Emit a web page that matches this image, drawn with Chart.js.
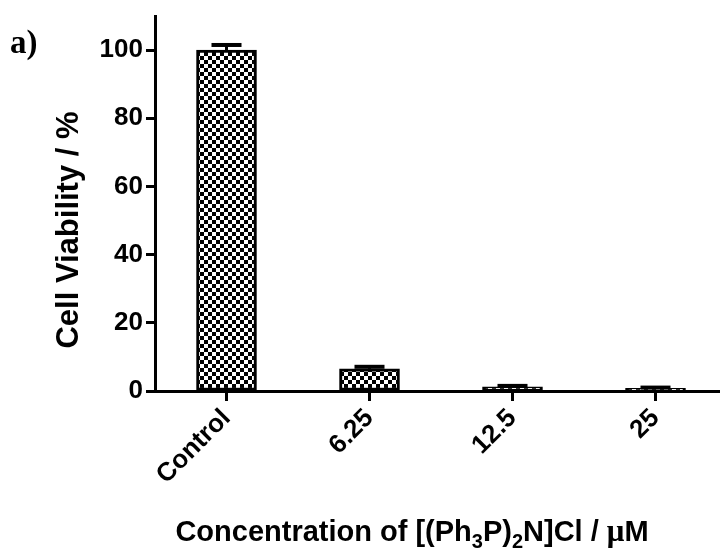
<!DOCTYPE html>
<html>
<head>
<meta charset="utf-8">
<title>Cell viability</title>
<script src="https://cdn.jsdelivr.net/npm/chart.js@4"></script>
<style>
  html, body { margin: 0; padding: 0; background: #fff; overflow: hidden; }
</style>
</head>
<body>
<canvas id="viability" width="730" height="552"></canvas>
<script>
// viability (%) per treatment, mean and SD
const concentrations = ['Control', '6.25', '12.5', '25'];
const viability = [100, 6.5, 1.2, 0.8];
const viabilitySD = [1.5, 0.6, 0.3, 0.2];
const yTicks = [0, 20, 40, 60, 80, 100];

const yTitle = 'Cell Viability / %';
// x title pieces: [text, subscript?, serif?]
const xTitle = [
  ['Concentration of [(Ph', false, false],
  ['3', true, false],
  ['P)', false, false],
  ['2', true, false],
  ['N]Cl / ', false, false],
  ['\u03bc', false, true],
  ['M', false, false]
];

Chart.defaults.font.family = '"Liberation Sans", Arial, sans-serif';
Chart.defaults.font.weight = 'bold';
Chart.defaults.color = '#000';

// black/white checkerboard fill for the bars
function checker(cell) {
  const c = document.createElement('canvas');
  c.width = c.height = cell * 2;
  const g = c.getContext('2d');
  g.fillStyle = '#fff';
  g.fillRect(0, 0, cell * 2, cell * 2);
  g.fillStyle = '#000';
  g.fillRect(0, 0, cell, cell);
  g.fillRect(cell, cell, cell, cell);
  return g.createPattern(c, 'repeat');
}

const errorBars = {
  id: 'errorBars',
  afterDatasetsDraw(chart) {
    const ctx = chart.ctx;
    const y = chart.scales.y;
    const meta = chart.getDatasetMeta(0);
    ctx.save();
    ctx.strokeStyle = '#000';
    ctx.fillStyle = '#000';
    meta.data.forEach((bar, i) => {
      const top = y.getPixelForValue(viability[i] + viabilitySD[i]);
      ctx.lineWidth = 3;
      ctx.beginPath();
      ctx.moveTo(bar.x, bar.y);
      ctx.lineTo(bar.x, top);
      ctx.stroke();
      ctx.fillRect(bar.x - 15, top - 2, 30, 4);
    });
    ctx.restore();
  }
};

const titles = {
  id: 'titles',
  afterDraw(chart) {
    const ctx = chart.ctx;
    ctx.save();
    ctx.fillStyle = '#000';
    ctx.textBaseline = 'alphabetic';

    ctx.font = 'bold 33px "Liberation Serif"';
    ctx.fillText('a)', 10, 53);

    // y axis title
    ctx.save();
    ctx.font = 'bold 31px "Liberation Sans"';
    ctx.translate(78, 230);
    ctx.rotate(-Math.PI / 2);
    ctx.textAlign = 'center';
    ctx.fillText(yTitle, 0, 0);
    ctx.restore();

    // x axis title with subscripts
    const fontFor = p => p[2] ? 'bold 31px "Liberation Serif"'
      : (p[1] ? 'bold 20px "Liberation Sans"' : 'bold 29px "Liberation Sans"');
    let total = 0;
    xTitle.forEach(p => { ctx.font = fontFor(p); total += ctx.measureText(p[0]).width; });
    let x = 412 - total / 2;
    xTitle.forEach(p => {
      ctx.font = fontFor(p);
      ctx.fillText(p[0], x, p[1] ? 548 : 541);
      x += ctx.measureText(p[0]).width;
    });
    ctx.restore();
  }
};

new Chart(document.getElementById('viability'), {
  type: 'bar',
  data: {
    labels: concentrations,
    datasets: [{
      data: viability,
      backgroundColor: checker(4),
      borderColor: '#000',
      borderWidth: 3,
      borderSkipped: false,
      barThickness: 60
    }]
  },
  options: {
    responsive: false,
    animation: false,
    layout: { padding: { top: 14, right: 3, left: 0, bottom: 0 } },
    plugins: { legend: { display: false }, tooltip: { enabled: false } },
    scales: {
      x: {
        offset: true,
        grid: { drawOnChartArea: false, offset: false, tickLength: 10, tickWidth: 3, tickColor: '#000' },
        border: { width: 3, color: '#000' },
        ticks: { font: { size: 26, weight: 'bold' }, minRotation: 45, maxRotation: 45, padding: 2 },
        afterFit(s) { s.height = 161; }
      },
      y: {
        min: 0,
        max: 110,
        grid: { drawOnChartArea: false, tickLength: 9, tickWidth: 3, tickColor: '#000' },
        border: { width: 3, color: '#000' },
        ticks: { font: { size: 26, weight: 'bold', lineHeight: 1 }, padding: 3 },
        afterBuildTicks(s) { s.ticks = yTicks.map(v => ({ value: v })); },
        afterFit(s) { s.width = 155; }
      }
    }
  },
  plugins: [errorBars, titles]
});
</script>
</body>
</html>
